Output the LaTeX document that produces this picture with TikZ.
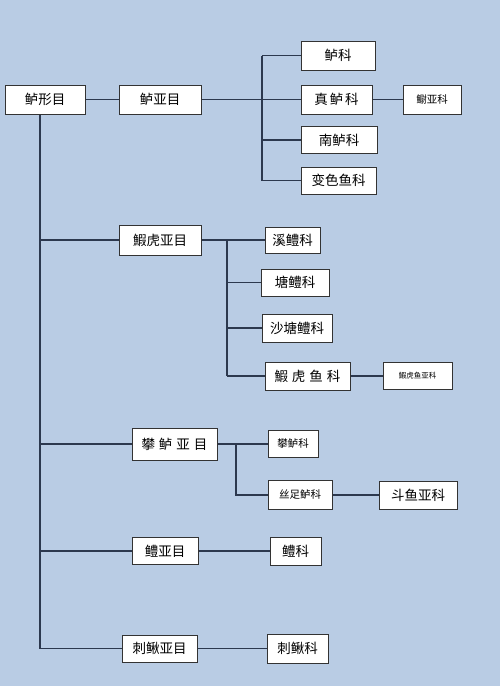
\documentclass[tikz,border=0pt]{standalone}
\usepackage{fontspec}
\setmainfont{Noto Sans CJK SC}
\usetikzlibrary{positioning}
\definecolor{bgblue}{RGB}{185,204,228}
\definecolor{linenavy}{RGB}{44,56,78}
\tikzset{
  box/.style={draw=black!80, fill=white, line width=1pt, inner sep=0pt,
    font=\fontsize{13.5}{14}\selectfont},
  smallbox/.style={box, font=\fontsize{10.5}{11}\selectfont},
  tinybox/.style={box, font=\fontsize{7.5}{8}\selectfont},
  link/.style={draw=linenavy, line width=1.2pt},
}
\newcommand{\gapsp}{\hspace{4pt}}

\begin{document}
\begin{tikzpicture}[x=1pt,y=-1pt]

    % background
    \fill[bgblue] (0,0) rectangle (500,686);
    \useasboundingbox (0,0) rectangle (500,686);

    % --- order ---
    \node[box, minimum width=80pt, minimum height=29pt] (order) at (45,99.5) {鲈形目};

    % --- suborders ---
    \node[box, minimum width=82pt, minimum height=29pt] (percoidei) at (160,99.5) {鲈亚目};
    \node[box, minimum width=82pt, minimum height=30pt] (gobioidei) at (160,240) {鰕虎亚目};
    \node[box, minimum width=85pt, minimum height=32pt] (anabantoidei) at (174.5,444) {攀\gapsp 鲈\gapsp 亚\gapsp 目};
    \node[box, minimum width=66pt, minimum height=27pt] (channoidei) at (165,551) {鳢亚目};
    \node[box, minimum width=75pt, minimum height=27pt] (mastacembeloidei) at (159.5,648.5) {刺鳅亚目};

    % --- families under 鲈亚目 ---
    \node[box, minimum width=74pt, minimum height=29pt] (percidae) at (338,55.5) {鲈科};
    \node[box, minimum width=71pt, minimum height=29pt] (serranidae) at (336.5,99.5) {真\hspace{2pt}鲈\hspace{2pt}科};
    \node[smallbox, minimum width=58pt, minimum height=29pt] (blenniinae) at (432,99.5) {鳚亚科};
    \node[box, minimum width=76pt, minimum height=27pt] (percichthyidae) at (339,140) {南鲈科};
    \node[box, minimum width=75pt, minimum height=27pt] (chaudhuriidae) at (338.5,180.5) {变色鱼科};

    % --- families under 鰕虎亚目 ---
    \node[box, minimum width=55pt, minimum height=26pt] (rhyacichthyidae) at (292.5,240) {溪鳢科};
    \node[box, minimum width=68pt, minimum height=27pt] (eleotridae) at (295,282.5) {塘鳢科};
    \node[box, minimum width=70pt, minimum height=28pt] (odontobutidae) at (297,328) {沙塘鳢科};
    \node[box, minimum width=85pt, minimum height=28pt] (gobiidae) at (307.5,376) {鰕\gapsp 虎\gapsp 鱼\gapsp 科};
    \node[tinybox, minimum width=69pt, minimum height=27pt] (gobiinae) at (417.5,376) {鰕虎鱼亚科};

    % --- families under 攀鲈亚目 ---
    \node[smallbox, minimum width=50pt, minimum height=27pt] (anabantidae) at (293,444) {攀鲈科};
    \node[smallbox, minimum width=64pt, minimum height=29pt] (osphronemidae) at (300,495) {丝足鲈科};
    \node[box, minimum width=78pt, minimum height=28pt] (macropodinae) at (418,495) {斗鱼亚科};

    % --- families under 鳢亚目, 刺鳅亚目 ---
    \node[box, minimum width=51pt, minimum height=28pt] (channidae) at (295.5,551) {鳢科};
    \node[box, minimum width=61pt, minimum height=29pt] (mastacembelidae) at (297.5,648.5) {刺鳅科};

    % --- main trunk ---
    \coordinate (trunk) at ([xshift=-5pt]order.south);
    \draw[link] (order.east) -- (percoidei.west);
    \draw[link] (trunk) |- (mastacembeloidei.west);
    \foreach \s in {gobioidei,anabantoidei,channoidei}
      \draw[link] (trunk |- \s.west) -- (\s.west);

    % --- 鲈亚目 branch ---
    \coordinate (vA) at (262,0);
    \draw[link] (percoidei.east) -- (serranidae.west);
    \draw[link] (vA |- percidae.west) -- (vA |- chaudhuriidae.west);
    \foreach \f in {percidae,percichthyidae,chaudhuriidae}
      \draw[link] (vA |- \f.west) -- (\f.west);
    \draw[link] (serranidae.east) -- (blenniinae.west);

    % --- 鰕虎亚目 branch ---
    \coordinate (vB) at (227,0);
    \draw[link] (gobioidei.east) -- (rhyacichthyidae.west);
    \draw[link] (vB |- gobioidei.east) -- (vB |- gobiidae.west);
    \foreach \f in {eleotridae,odontobutidae,gobiidae}
      \draw[link] (vB |- \f.west) -- (\f.west);
    \draw[link] (gobiidae.east) -- (gobiinae.west);

    % --- 攀鲈亚目 branch ---
    \coordinate (vC) at (236,0);
    \draw[link] (anabantoidei.east) -- (anabantidae.west);
    \draw[link] (vC |- anabantoidei.east) |- (osphronemidae.west);
    \draw[link] (osphronemidae.east) -- (macropodinae.west);

    % --- 鳢亚目, 刺鳅亚目 ---
    \draw[link] (channoidei.east) -- (channidae.west);
    \draw[link] (mastacembeloidei.east) -- (mastacembelidae.west);

\end{tikzpicture}
\end{document}
